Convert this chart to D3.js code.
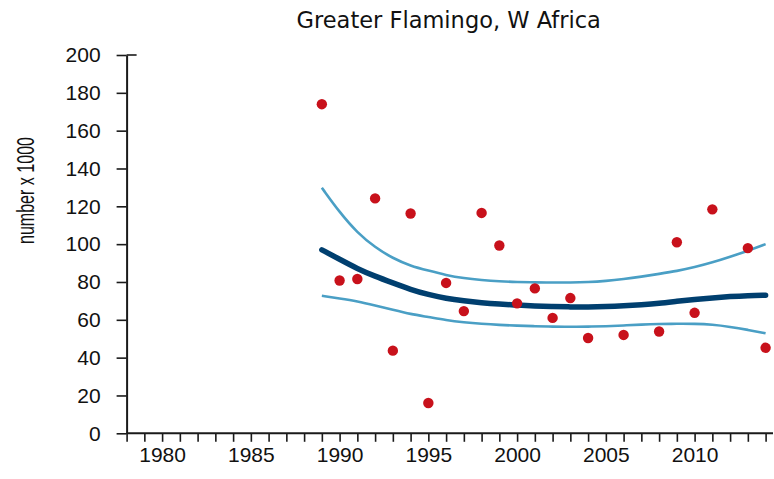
<!DOCTYPE html>
<html><head><meta charset="utf-8">
<script src="https://cdn.jsdelivr.net/npm/d3@7"></script>
<style>html,body{margin:0;padding:0;background:#fff}svg{display:block}</style>
</head><body>
<svg id="chart" width="774" height="479"></svg>
<script>
const title = "Greater Flamingo, W Africa";
const yLabel = "number x 1000";
const yTicks = [0, 20, 40, 60, 80, 100, 120, 140, 160, 180, 200];
const xTickLabels = [1980, 1985, 1990, 1995, 2000, 2005, 2010];

const pointYears = [1989,1990,1991,1992,1993,1994,1995,1996,1997,1998,1999,2000,2001,2002,2003,2004,2006,2008,2009,2010,2011,2013,2014];
const pointValues = [174,80.8,81.6,124.2,43.7,116.2,16,79.5,64.6,116.5,99.3,68.7,76.6,61,71.5,50.4,52,53.8,101,63.7,118.4,97.9,45.2];

const curveYears = [1989,1990,1991,1992,1993,1994,1995,1996,1997,1998,1999,2000,2001,2002,2003,2004,2005,2006,2007,2008,2009,2010,2011,2012,2013,2014];
const trendValues = [97,92,87,83,79.5,76,73.3,71.3,70,69,68.3,67.8,67.3,67,66.8,66.8,67,67.4,68,68.7,69.8,70.8,71.6,72.3,72.8,73];
const upperValues = [129.8,116.8,106,98.3,92.5,88.5,86,83.6,82,81,80.3,80,79.8,79.7,79.7,79.9,80.5,81.5,82.8,84.3,85.8,87.8,90.3,93.3,96.5,100];
const lowerValues = [72.7,71.3,69.8,67.6,65.3,63,61.5,59.8,58.7,57.9,57.3,56.9,56.6,56.4,56.3,56.4,56.6,57,57.5,57.8,57.9,57.9,57.5,56.3,54.7,52.9];

const svg = d3.select("#chart");
const x = d3.scaleLinear().domain([1978, 2014]).range([126.6, 765.6]);
const y = d3.scaleLinear().domain([0, 200]).range([433.3, 55]);
const axisColor = "#1a1a1a";
const tickFont = "'Liberation Sans', Arial, sans-serif";

// title
svg.append("text").attr("x", 448.7).attr("y", 28.3)
  .attr("text-anchor", "middle")
  .style("font-family", "'DejaVu Sans', Verdana, sans-serif")
  .style("font-size", "22.5px").style("fill", "#111")
  .text(title);

// y label
svg.append("text")
  .attr("transform", "translate(33.5,190.5) rotate(-90)")
  .attr("text-anchor", "middle")
  .attr("textLength", 107).attr("lengthAdjust", "spacingAndGlyphs")
  .style("font-family", "'Liberation Sans', Arial, sans-serif")
  .style("font-size", "23px").style("fill", "#111")
  .text(yLabel);

// y axis
const yAxis = d3.axisLeft(y).tickValues(yTicks).tickSize(10).tickPadding(16).tickSizeOuter(0);
const gy = svg.append("g").attr("transform", `translate(${x(1978)},0)`).call(yAxis);
gy.select(".domain").attr("stroke", axisColor).attr("stroke-width", 2);
gy.selectAll(".tick line").attr("stroke", axisColor).attr("stroke-width", 1.6);
gy.selectAll(".tick text").style("font-family", tickFont).style("font-size", "21px").style("fill", "#111");
// top tick crosses the axis
gy.append("line").attr("x1", 0).attr("x2", 10).attr("y1", y(200)).attr("y2", y(200))
  .attr("stroke", axisColor).attr("stroke-width", 1.6);

// x axis
const allYears = d3.range(1978, 2015);
const xAxis = d3.axisBottom(x).tickValues(allYears).tickSize(8.5).tickPadding(5)
  .tickSizeOuter(0)
  .tickFormat(d => xTickLabels.includes(d) ? String(d) : "");
const gx = svg.append("g").attr("transform", `translate(0,${y(0)})`).call(xAxis);
gx.select(".domain").remove();
gx.append("line").attr("x1", x(1978)).attr("x2", 773).attr("y1", 0).attr("y2", 0)
  .attr("stroke", axisColor).attr("stroke-width", 2);
gx.selectAll(".tick line").attr("stroke", axisColor).attr("stroke-width", 1.6);
gx.selectAll(".tick text").style("font-family", tickFont).style("font-size", "21px").style("fill", "#111");

// curves
const mk = vals => d3.line().x((d, i) => x(curveYears[i])).y(d => y(d)).curve(d3.curveBasis)(vals);
svg.append("path").attr("d", mk(upperValues)).attr("fill", "none").attr("stroke", "#4a9fc5").attr("stroke-width", 2.6);
svg.append("path").attr("d", mk(lowerValues)).attr("fill", "none").attr("stroke", "#4a9fc5").attr("stroke-width", 2.6);
svg.append("path").attr("d", mk(trendValues)).attr("fill", "none").attr("stroke", "#003f6f").attr("stroke-width", 5.5).attr("stroke-linecap", "round");

// points
svg.append("g").selectAll("circle").data(pointValues).join("circle")
  .attr("cx", (d, i) => x(pointYears[i])).attr("cy", d => y(d)).attr("r", 5.2)
  .attr("fill", "#c8111b");
</script>
</body></html>
